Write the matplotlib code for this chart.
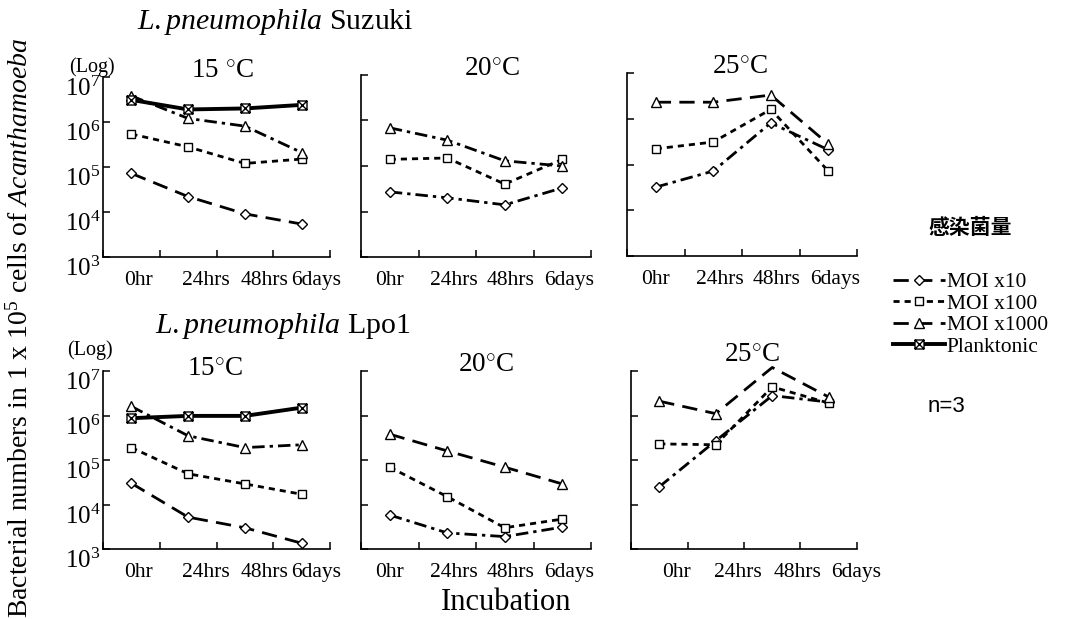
import matplotlib
matplotlib.use('Agg')
import matplotlib.pyplot as plt
from matplotlib.path import Path
from matplotlib.lines import Line2D

plt.rcParams['font.family'] = ['Liberation Serif', 'DejaVu Serif']
plt.rcParams['mathtext.fontset'] = 'custom'
plt.rcParams['mathtext.rm'] = 'Liberation Serif'
plt.rcParams['mathtext.it'] = 'Liberation Serif:italic'

# incubation times
times = ['0hr', '24hrs', '48hrs', '6days']
series_names = ['MOI x10', 'MOI x100', 'MOI x1000', 'Planktonic']

# L.pneumophila Suzuki (bacteria per 1e5 amoeba cells)
suzuki_15_moi10 = [7.2e4, 2.2e4, 9.1e3, 5.4e3]
suzuki_15_moi100 = [5.4e5, 2.8e5, 1.2e5, 1.5e5]
suzuki_15_moi1000 = [3.8e6, 1.2e6, 8.1e5, 2.1e5]
suzuki_15_plank = [3.1e6, 1.9e6, 2.0e6, 2.4e6]

suzuki_20_moi10 = [2.7e4, 2.0e4, 1.4e4, 3.3e4]
suzuki_20_moi100 = [1.4e5, 1.5e5, 4.0e4, 1.4e5]
suzuki_20_moi1000 = [6.9e5, 3.7e5, 1.3e5, 1.0e5]

suzuki_25_moi10 = [3.2e4, 7.2e4, 8.1e5, 2.1e5]
suzuki_25_moi100 = [2.2e5, 3.1e5, 1.6e6, 7.2e4]
suzuki_25_moi1000 = [2.3e6, 2.3e6, 3.3e6, 2.8e5]

# L.pneumophila Lpo1
lpo1_15_moi10 = [3.0e4, 5.2e3, 3.0e3, 1.35e3]
lpo1_15_moi100 = [1.9e5, 4.9e4, 2.9e4, 1.7e4]
lpo1_15_moi1000 = [1.6e6, 3.5e5, 1.9e5, 2.2e5]
lpo1_15_plank = [8.7e5, 9.8e5, 9.8e5, 1.5e6]

lpo1_20_moi10 = [5.8e3, 2.3e3, 1.9e3, 3.1e3]
lpo1_20_moi100 = [6.9e4, 1.5e4, 3.0e3, 4.7e3]
lpo1_20_moi1000 = [3.8e5, 1.6e5, 6.9e4, 2.9e4]

lpo1_25_moi10 = [2.5e4, 2.7e5, 2.8e6, 2.0e6]
lpo1_25_moi100 = [2.3e5, 2.2e5, 4.4e6, 1.9e6]
lpo1_25_moi1000 = [2.1e6, 1.1e6, 1.2e7, 2.6e6]

W, H = 1070, 619

# square with a cross, for planktonic
box_x = Path([(-1, -1), (1, -1), (1, 1), (-1, 1), (-1, -1),
              (-1, -1), (1, 1), (-1, 1), (1, -1)],
             [Path.MOVETO, Path.LINETO, Path.LINETO, Path.LINETO, Path.CLOSEPOLY,
              Path.MOVETO, Path.LINETO, Path.MOVETO, Path.LINETO])

dashed = (0, (5.5, 3))
dotted = (0, (2.2, 1.8))
dashdot = (0, (4.5, 1.8, 1.2, 1.8))
markers = {'MOI x10': ('D', 5), 'MOI x100': ('s', 6), 'MOI x1000': ('^', 7), 'Planktonic': (box_x, 6.5)}


def fpos(x, y):
    return x / W, 1 - y / H


def make_ax(left, top, right, bottom):
    return fig.add_axes([left / W, 1 - bottom / H, (right - left) / W, (bottom - top) / H])


fig = plt.figure(figsize=(W / 100, H / 100), dpi=100)

# tick label positions (category units) differ a bit between panels
left_lbl = [0.63, 1.81, 2.84, 3.76]
mid_lbl = [0.50, 1.62, 2.60, 3.62]
br_lbl = [0.80, 1.89, 2.94, 3.98]

panels = [
    ((103, 77, 330, 257), [suzuki_15_moi10, suzuki_15_moi100, suzuki_15_moi1000, suzuki_15_plank],
     [dashed, dotted, dashdot, '-'], left_lbl, '15 $^{\\circ}$C', (222, 72), True),
    ((361, 75, 591, 257), [suzuki_20_moi10, suzuki_20_moi100, suzuki_20_moi1000],
     [dashdot, dotted, dashdot], mid_lbl, '20$^{\\circ}$C', (492, 70), False),
    ((627, 73, 857, 256), [suzuki_25_moi10, suzuki_25_moi100, suzuki_25_moi1000],
     [dashdot, dotted, dashed], mid_lbl, '25$^{\\circ}$C', (740, 67), False),
    ((103, 371, 330, 549), [lpo1_15_moi10, lpo1_15_moi100, lpo1_15_moi1000, lpo1_15_plank],
     [dashed, dotted, dashdot, '-'], left_lbl, '15$^{\\circ}$C', (215, 370), True),
    ((361, 371, 591, 549), [lpo1_20_moi10, lpo1_20_moi100, lpo1_20_moi1000],
     [dashdot, dotted, dashed], mid_lbl, '20$^{\\circ}$C', (486, 366), False),
    ((631, 371, 857, 549), [lpo1_25_moi10, lpo1_25_moi100, lpo1_25_moi1000],
     [dashdot, dotted, dashed], br_lbl, '25$^{\\circ}$C', (752, 355), False),
]

xs = [0.5, 1.5, 2.5, 3.5]
for box, data, styles, lbl_pos, title, tpos, ylabels in panels:
    ax = make_ax(*box)
    for i, (vals, ls) in enumerate(zip(data, styles)):
        name = series_names[i]
        mk, ms = markers[name]
        lw = 2.8 if name == 'Planktonic' else 2.0
        every = None
        if vals is lpo1_25_moi1000:
            every = [0, 1, 3]
        ax.plot(xs, vals, linestyle=ls, color='black', lw=lw, marker=mk, ms=ms,
                mfc='white', mec='black', mew=1.0, clip_on=False, markevery=every)
    ax.set_yscale('log')
    ax.set_ylim(1e3, 1e7)
    ax.set_xlim(0, 4)
    ax.set_xticks([0, 1, 2, 3, 4])
    ax.set_xticklabels([])
    ax.set_xticks(lbl_pos, minor=True)
    ax.set_xticklabels(times, minor=True)
    ax.set_yticks([1e3, 1e4, 1e5, 1e6, 1e7])
    ax.yaxis.set_minor_locator(matplotlib.ticker.NullLocator())
    if ylabels:
        ax.set_yticklabels(['$\\mathregular{10^{%d}}$' % k for k in range(3, 8)])
        for lab in ax.get_yticklabels():
            lab.set_va('top')
    else:
        ax.set_yticklabels([])
    ax.tick_params(which='major', direction='in', length=5, width=1.1)
    ax.tick_params(axis='x', which='minor', length=0, pad=10, labelsize=15.5)
    ax.tick_params(axis='y', labelsize=18, pad=2)
    for s in ['top', 'right']:
        ax.spines[s].set_visible(False)
    for s in ['left', 'bottom']:
        ax.spines[s].set_linewidth(1.2)
    ax.patch.set_visible(False)
    fig.text(*fpos(*tpos), title, fontsize=19.5, ha='center', va='center')

# (Log) labels
fig.text(*fpos(92, 67), '(Log)', fontsize=14.5, ha='center', va='center')
fig.text(*fpos(90, 350), '(Log)', fontsize=14.5, ha='center', va='center')

# strain headings
fig.text(*fpos(137, 22), '$\\mathit{L.pneumophila}$ Suzuki', fontsize=21.5, ha='left', va='center')
fig.text(*fpos(155, 326), '$\\mathit{L.pneumophila}$ Lpo1', fontsize=21.5, ha='left', va='center')

# axis titles
fig.text(*fpos(506, 603), 'Incubation', fontsize=22, ha='center', va='center')
fig.text(*fpos(20, 328), 'Bacterial numbers in 1 x 10$^{5}$ cells of $\\mathit{Acanthamoeba}$',
         fontsize=20, rotation=90, ha='center', va='center')

# legend
handles = [
    Line2D([], [], color='black', lw=2.0, ls=dashed, marker='D', ms=5, mfc='white', mew=1.0),
    Line2D([], [], color='black', lw=2.0, ls=dotted, marker='s', ms=6, mfc='white', mew=1.0),
    Line2D([], [], color='black', lw=2.0, ls=dashed, marker='^', ms=7, mfc='white', mew=1.0),
    Line2D([], [], color='black', lw=2.8, ls='-', marker=box_x, ms=6.5, mfc='white', mew=1.0),
]
fig.legend(handles, series_names, loc='upper left', bbox_to_anchor=fpos(893, 272),
           frameon=False, fontsize=15.5, handlelength=2.4, handletextpad=0.1,
           labelspacing=0.07, borderpad=0, borderaxespad=0)
fig.text(*fpos(970, 228), '感染菌量', fontsize=15, fontweight='bold', ha='center', va='center',
         family=['Noto Sans CJK SC', 'DejaVu Sans'])
fig.text(*fpos(946, 407), 'n=3', fontsize=16, ha='center', va='center', family='Liberation Sans')

fig.savefig('out.png', dpi=100)
